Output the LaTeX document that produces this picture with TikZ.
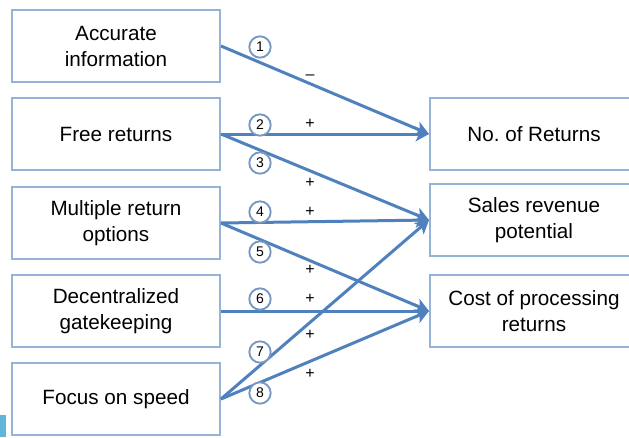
\documentclass[tikz,border=0pt]{standalone}
\usepackage{fontspec}
\setmainfont{Liberation Sans}
\usetikzlibrary{arrows.meta}

\definecolor{boxblue}{RGB}{149,179,215}
\definecolor{lineblue}{RGB}{79,129,189}
\definecolor{tagblue}{RGB}{120,152,196}
\definecolor{cornerblue}{RGB}{96,182,214}

\tikzset{every picture/.style={line width=0.75pt}}
\tikzset{
  factor/.style={draw=boxblue, line width=1.5, fill=white, minimum width=156pt, minimum height=54pt,
    align=center, inner sep=0pt, font=\fontsize{15.5}{19.5}\selectfont},
  link/.style={draw=lineblue, line width=2.25, -{Stealth[length=10pt,width=11pt,inset=2.5pt]}},
  tag/.style={circle, draw=tagblue, line width=1.4, fill=white, inner sep=0pt, minimum size=16pt,
    font=\fontsize{10.5}{10.5}\selectfont},
  sign/.style={inner sep=0.75pt, font=\fontsize{12}{12}\selectfont}
}

\begin{document}
\begin{tikzpicture}[x=0.75pt,y=0.75pt,yscale=-1,xscale=1]
\useasboundingbox (0,0) rectangle (629,437);
\clip (0,0) rectangle (629,437);

%Shape: Rectangle
\fill [cornerblue] (0,415) rectangle (6,437);

% Cause boxes
\node [factor] (accinfo) at (116,46) {Accurate\\information};
\node [factor] (freeret) at (116,134) {Free returns};
\node [factor] (multret) at (116,223) {Multiple return\\options};
\node [factor] (decgate) at (116,311) {Decentralized\\gatekeeping};
\node [factor] (focspeed) at (116,399) {Focus on speed};

% Effect boxes
\node [factor] (noret) at (534,134) {No.\ of Returns};
\node [factor] (salesrev) at (534,220) {Sales revenue\\potential};
\node [factor] (costproc) at (534,311) {Cost of processing\\returns};

%Straight Lines
\draw [link] (accinfo.east) -- (noret.west);
\draw [link] (freeret.east) -- (noret.west);
\draw [link] (freeret.east) -- (salesrev.west);
\draw [link] (multret.east) -- (salesrev.west);
\draw [link] (multret.east) -- (costproc.west);
\draw [link] (decgate.east) -- (costproc.west);
\draw [link] (focspeed.east) -- (salesrev.west);
\draw [link] (focspeed.east) -- (costproc.west);

% Link numbers
\node [tag] (tag1) at (260,47) {1};
\node [tag] (tag2) at (260,125) {2};
\node [tag] (tag3) at (260,163) {3};
\node [tag] (tag4) at (260,212) {4};
\node [tag] (tag5) at (260,252) {5};
\node [tag] (tag6) at (260,299) {6};
\node [tag] (tag7) at (260,352) {7};
\node [tag] (tag8) at (260,393) {8};

% Link signs
\node [sign] (sign1) at (310,77) {\textendash};
\node [sign] (sign2) at (310,124) {+};
\node [sign] (sign3) at (310,183) {+};
\node [sign] (sign4) at (310,212) {+};
\node [sign] (sign5) at (310,270) {+};
\node [sign] (sign6) at (310,299) {+};
\node [sign] (sign7) at (310,335) {+};
\node [sign] (sign8) at (310,374) {+};

\end{tikzpicture}
\end{document}
